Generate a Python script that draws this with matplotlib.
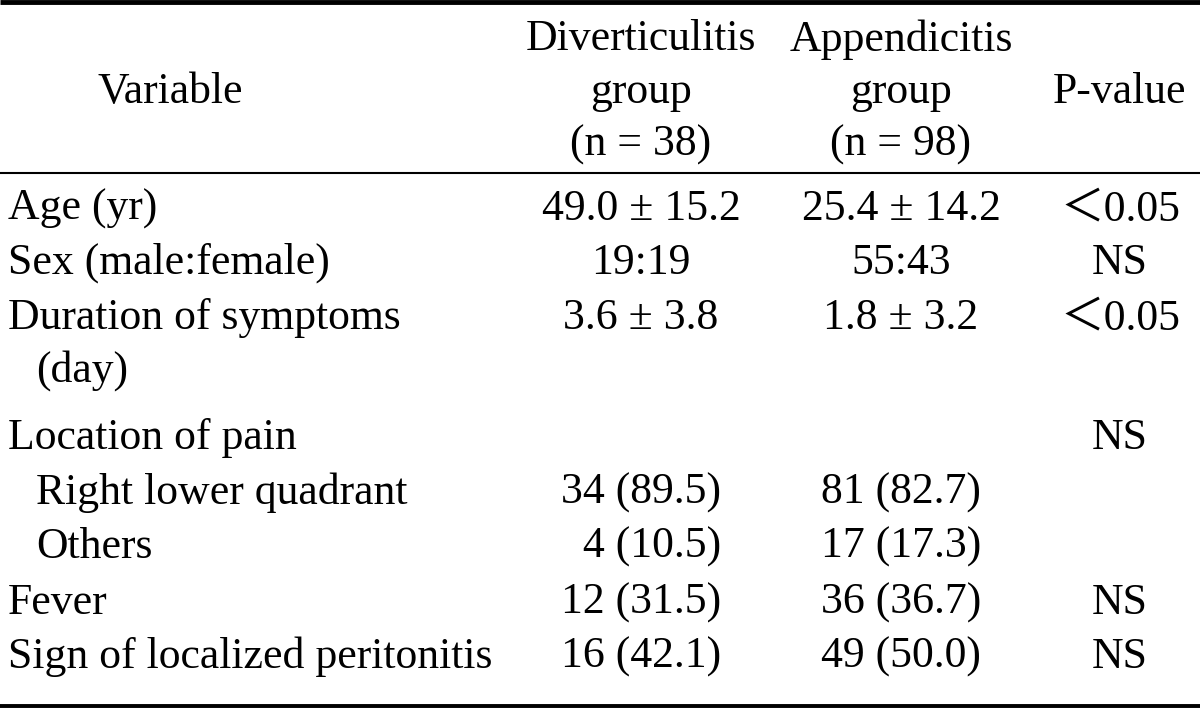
import matplotlib
matplotlib.use("Agg")
import matplotlib.pyplot as plt

# table content
header_var = "Variable"
header_groups = ["Diverticulitis\ngroup\n(n = 38)", "Appendicitis\ngroup\n(n = 98)"]
header_p = "P-value"

row_labels = ["Age (yr)", "Sex (male:female)", "Duration of symptoms",
              " (day)", "Location of pain", "Right lower quadrant",
              "Others", "Fever", "Sign of localized peritonitis"]
row_indent = [0, 0, 0, 1, 0, 1, 1, 0, 0]
divert = ["49.0 ± 15.2", "19:19", "3.6 ± 3.8", "", "", "34 (89.5)",
          "\u20074 (10.5)", "12 (31.5)", "16 (42.1)"]
append = ["25.4 ± 14.2", "55:43", "1.8 ± 3.2", "", "", "81 (82.7)",
          "17 (17.3)", "36 (36.7)", "49 (50.0)"]
pvals = ["＜0.05", "NS", "＜0.05", "", "NS", "", "", "NS", "NS"]

W, H = 1200, 709
fig = plt.figure(figsize=(W / 100, H / 100), dpi=100)
ax = fig.add_axes([0, 0, 1, 1])
ax.set_xlim(0, W)
ax.set_ylim(H, 0)
ax.axis("off")

fam = ["Liberation Serif", "Noto Sans CJK JP", "DejaVu Serif"]
fs = 31.5

# rules
ax.plot([0, W], [2, 2], color="black", lw=3.5, solid_capstyle="butt")
ax.plot([0, W], [173, 173], color="black", lw=1.5, solid_capstyle="butt")
ax.plot([0, W], [705.5, 705.5], color="black", lw=2.8, solid_capstyle="butt")

col_x = [641, 901, 1120]

ax.text(170, 92, header_var, ha="center", va="center", fontsize=fs, family=fam)
for x, t in zip(col_x[:2], header_groups):
    ax.text(x, 92, t, ha="center", va="center", fontsize=fs, family=fam,
            linespacing=1.4)
ax.text(col_x[2], 92, header_p, ha="center", va="center", fontsize=fs, family=fam)

row_y = [209, 263, 318, 371, 438, 493, 547, 603, 657]
for i, y in enumerate(row_y):
    x0 = 8 + 28 * row_indent[i]
    ax.text(x0, y, row_labels[i].strip(), ha="left", va="center",
            fontsize=fs, family=fam)
    ax.text(col_x[0], y, divert[i], ha="center", va="center", fontsize=fs, family=fam)
    ax.text(col_x[1], y, append[i], ha="center", va="center", fontsize=fs, family=fam)
    ax.text(col_x[2], y, pvals[i], ha="center", va="center", fontsize=fs, family=fam)

fig.savefig("out.png", dpi=100)
